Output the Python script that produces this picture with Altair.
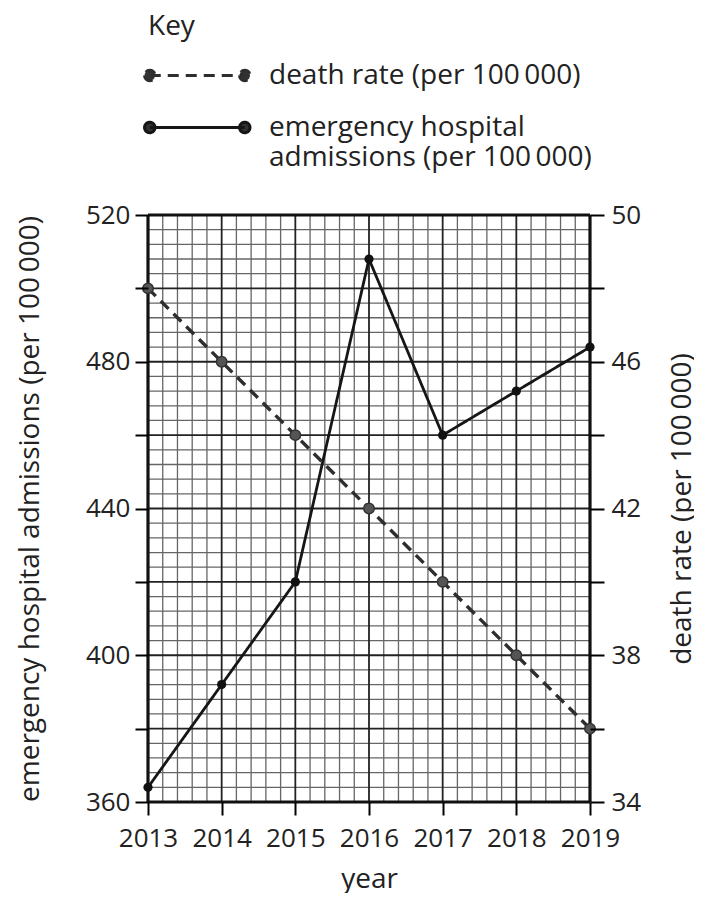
import altair as alt
import pandas as pd

years = [2013, 2014, 2015, 2016, 2017, 2018, 2019]
admissions = [364, 392, 420, 508, 460, 472, 484]
death_rate = [48, 46, 44, 42, 40, 38, 36]

S = "\u2009"
death_label = f"death rate (per 100{S}000)"
adm_label = f"emergency hospital|admissions (per 100{S}000)"
left_title = f"emergency hospital admissions (per 100{S}000)"
right_title = f"death rate (per 100{S}000)"
x_title = "year"
key_title = "Key"

FONT = "Open Sans"
TXT = "#222222"
FS = 28
TFS = 26

adm_df = pd.DataFrame({"year": years, "value": admissions, "series": adm_label})
dr_df = pd.DataFrame({"year": years, "value": death_rate, "series": death_label})

# graph-paper grid positions (layout, not data)
minor_x = [round(2013 + 0.2 * i, 1) for i in range(31) if i % 5 != 0]
major_x = years[1:-1]
edge_x = [years[0], years[-1]]
minor_y = [360 + 4 * j for j in range(41) if j % 5 != 0]
major_y = [380 + 20 * j for j in range(7)]
edge_y = [360, 520]

xscale = alt.Scale(domain=[2013, 2019], nice=False, zero=False)
yscale = alt.Scale(domain=[360, 520], nice=False, zero=False)
rscale = alt.Scale(domain=[34, 50], nice=False, zero=False)

color_scale = alt.Scale(domain=[death_label, adm_label], range=["#2e2e2e", "#161616"])
dash_scale = alt.Scale(domain=[death_label, adm_label], range=[[11, 7], [1, 0]])

# key symbol: a line with a dot at each end (drawn wider than its nominal box)
r = 0.22
key_path = ("M-1,0L3,0"
            f"M{-1 - r},0a{r},{r} 0 1,0 {2 * r},0a{r},{r} 0 1,0 {-2 * r},0"
            f"M{3 - r},0a{r},{r} 0 1,0 {2 * r},0a{r},{r} 0 1,0 {-2 * r},0")

legend = alt.Legend(
    title=key_title, orient="none", legendX=0, legendY=-202,
    symbolType=key_path, symbolSize=2256, symbolStrokeWidth=3,
    symbolFillColor="#333333", symbolOpacity=1,
    labelExpr="split(datum.label, '|')",
    labelFont=FONT, labelFontSize=FS, labelColor=TXT, labelLimit=420,
    labelOffset=70, labelBaseline="middle",
    titleFont=FONT, titleFontSize=FS, titleFontWeight="normal", titleColor=TXT,
    titlePadding=9, rowPadding=12,
)

x_axis = alt.Axis(values=years, format="d", tickSize=13, tickWidth=2, tickColor="black",
                  domain=False, grid=False, labelFont=FONT, labelFontSize=TFS, labelColor=TXT,
                  labelPadding=10, labelOverlap=False, labelFlush=False,
                  title=x_title, titleFont=FONT, titleFontSize=FS,
                  titleFontWeight="normal", titleColor=TXT, titlePadding=14, zindex=2)

left_axis = alt.Axis(orient="left", values=list(range(360, 521, 20)),
                     labelExpr="datum.value % 40 == 0 ? datum.label : ''",
                     tickSize=13, tickWidth=2, tickColor="black", domain=False, grid=False,
                     labelFont=FONT, labelFontSize=TFS, labelColor=TXT, labelPadding=5,
                     labelOverlap=False, labelFlush=False,
                     title=left_title, titleFont=FONT, titleFontSize=FS,
                     titleFontWeight="normal", titleColor=TXT, titlePadding=41, zindex=2)

right_axis = alt.Axis(orient="right", values=list(range(34, 51, 2)),
                      labelExpr="(datum.value - 34) % 4 == 0 ? datum.label : ''",
                      tickSize=14, tickWidth=2, tickColor="black", domain=False, grid=False,
                      labelFont=FONT, labelFontSize=TFS, labelColor=TXT, labelPadding=7,
                      labelOverlap=False, labelFlush=False,
                      title=right_title, titleFont=FONT, titleFontSize=FS, titleAngle=270,
                      titleFontWeight="normal", titleColor=TXT, titlePadding=56, zindex=2)


def vrule(vals, color, width):
    return alt.Chart(pd.DataFrame({"gx": vals})).mark_rule(color=color, strokeWidth=width).encode(
        x=alt.X("gx:Q", scale=xscale, axis=x_axis))


def hrule(vals, color, width):
    return alt.Chart(pd.DataFrame({"gy": vals})).mark_rule(color=color, strokeWidth=width).encode(
        y=alt.Y("gy:Q", scale=yscale, axis=None))


adm_line = alt.Chart(adm_df).mark_line(strokeWidth=2.8).encode(
    x=alt.X("year:Q", scale=xscale, axis=x_axis),
    y=alt.Y("value:Q", scale=yscale, axis=left_axis),
    color=alt.Color("series:N", scale=color_scale, legend=legend),
    strokeDash=alt.StrokeDash("series:N", scale=dash_scale, legend=legend),
)
adm_pts = alt.Chart(adm_df).mark_circle(size=85, color="#111111", opacity=1).encode(
    x=alt.X("year:Q", scale=xscale, axis=x_axis),
    y=alt.Y("value:Q", scale=yscale, axis=None),
)
dr_line = alt.Chart(dr_df).mark_line(strokeWidth=3.4).encode(
    x=alt.X("year:Q", scale=xscale, axis=x_axis),
    y=alt.Y("value:Q", scale=rscale, axis=right_axis),
    color=alt.Color("series:N", scale=color_scale, legend=legend),
    strokeDash=alt.StrokeDash("series:N", scale=dash_scale, legend=legend),
)
dr_pts = alt.Chart(dr_df).mark_point(size=110, filled=True, fill="#555555", stroke="#333333",
                                     strokeWidth=1.5, opacity=1).encode(
    x=alt.X("year:Q", scale=xscale, axis=x_axis),
    y=alt.Y("value:Q", scale=rscale, axis=None),
)

chart = alt.layer(
    vrule(minor_x, "#666666", 1.3),
    hrule(minor_y, "#666666", 1.3),
    vrule(major_x, "#222222", 1.8),
    hrule(major_y, "#222222", 1.8),
    vrule(edge_x, "#111111", 3.2),
    hrule(edge_y, "#111111", 3.2),
    adm_line, adm_pts, dr_line, dr_pts,
).resolve_scale(y="independent").properties(
    width=442, height=587,
    autosize=alt.AutoSizeParams(type="none"),
    padding={"left": 140, "top": 207, "right": 104, "bottom": 91},
    background="white",
).configure_view(stroke=None)

chart.save("out.html", embed_options={"renderer": "svg", "actions": False})
